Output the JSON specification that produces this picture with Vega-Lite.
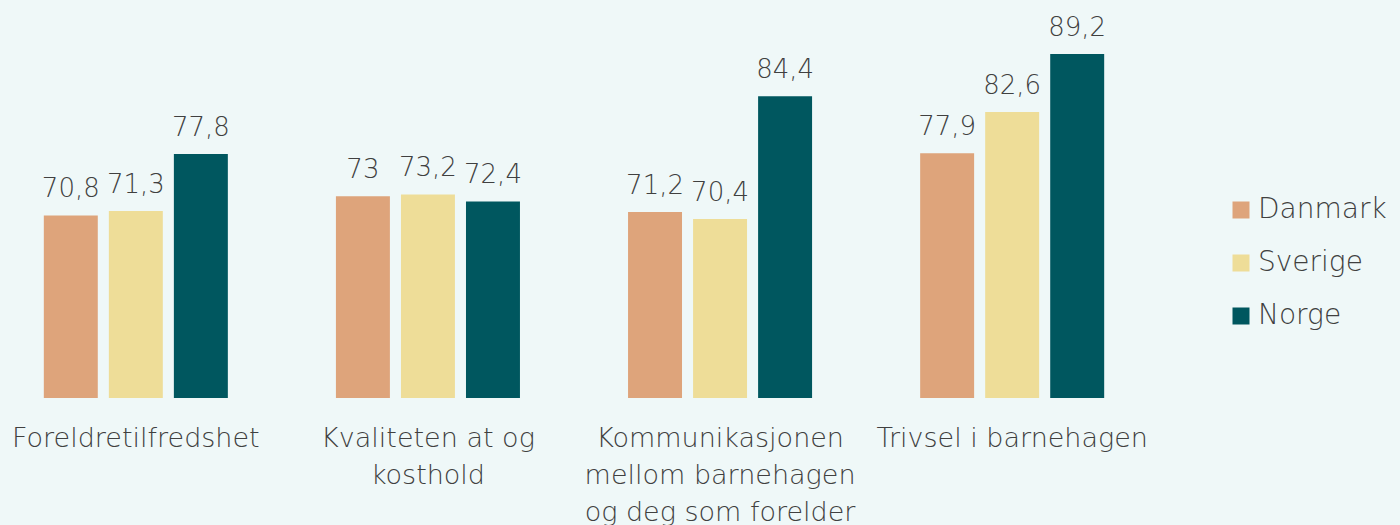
{
  "$schema": "https://vega.github.io/schema/vega-lite/v6.json",
  "width": 1148,
  "height": 351,
  "autosize": {"type": "none"},
  "padding": {"top": 47, "left": 0, "right": 252, "bottom": 127},
  "background": "#eff8f8",
  "config": {
    "view": {"stroke": null},
    "locale": {"number": {"decimal": ",", "thousands": " ", "grouping": [3], "currency": ["", " kr"]}},
    "font": "DejaVu Sans"
  },
  "data": {
    "values": [
      {"kategori": "Foreldretilfredshet", "land": "Danmark", "verdi": 70.8},
      {"kategori": "Foreldretilfredshet", "land": "Sverige", "verdi": 71.3},
      {"kategori": "Foreldretilfredshet", "land": "Norge", "verdi": 77.8},
      {"kategori": "Kvaliteten at og kosthold", "land": "Danmark", "verdi": 73},
      {"kategori": "Kvaliteten at og kosthold", "land": "Sverige", "verdi": 73.2},
      {"kategori": "Kvaliteten at og kosthold", "land": "Norge", "verdi": 72.4},
      {"kategori": "Kommunikasjonen mellom barnehagen og deg som forelder", "land": "Danmark", "verdi": 71.2},
      {"kategori": "Kommunikasjonen mellom barnehagen og deg som forelder", "land": "Sverige", "verdi": 70.4},
      {"kategori": "Kommunikasjonen mellom barnehagen og deg som forelder", "land": "Norge", "verdi": 84.4},
      {"kategori": "Trivsel i barnehagen", "land": "Danmark", "verdi": 77.9},
      {"kategori": "Trivsel i barnehagen", "land": "Sverige", "verdi": 82.6},
      {"kategori": "Trivsel i barnehagen", "land": "Norge", "verdi": 89.2}
    ]
  },
  "encoding": {
    "x": {
      "field": "kategori",
      "type": "nominal",
      "sort": null,
      "scale": {"paddingInner": 0.37, "paddingOuter": 0.15},
      "axis": {
        "title": null,
        "domain": false,
        "ticks": false,
        "labelAngle": 0,
        "labelFontSize": 27,
        "labelFontWeight": 200,
        "labelColor": "#404040",
        "labelPadding": 27,
        "labelBaseline": "top",
        "labelLineHeight": 37,
        "labelLimit": 400,
        "labelOverlap": false,
        "labelExpr": "datum.value == 'Kvaliteten at og kosthold' ? ['Kvaliteten at og', 'kosthold'] : datum.value == 'Kommunikasjonen mellom barnehagen og deg som forelder' ? ['Kommunikasjonen', 'mellom barnehagen', 'og deg som forelder'] : datum.value"
      }
    },
    "xOffset": {
      "field": "land",
      "type": "nominal",
      "sort": ["Danmark", "Sverige", "Norge"],
      "scale": {"paddingInner": 0.17, "paddingOuter": 0}
    },
    "y": {
      "field": "verdi",
      "type": "quantitative",
      "scale": {"domain": [50, 90], "zero": false, "clamp": false},
      "axis": null
    }
  },
  "layer": [
    {
      "mark": {"type": "bar", "clip": false},
      "encoding": {
        "y2": {"datum": 50},
        "color": {
          "field": "land",
          "type": "nominal",
          "sort": ["Danmark", "Sverige", "Norge"],
          "scale": {"domain": ["Danmark", "Sverige", "Norge"], "range": ["#dea47b", "#eedd98", "#00575f"]},
          "legend": {
            "title": null,
            "orient": "none",
            "legendX": 1227,
            "legendY": 149,
            "symbolType": "square",
            "symbolSize": 289,
            "symbolStrokeWidth": 0,
            "labelFontSize": 28,
            "labelFontWeight": 200,
            "labelColor": "#404040",
            "labelOffset": 3,
            "rowPadding": 25
          }
        }
      }
    },
    {
      "mark": {"type": "text", "baseline": "alphabetic", "dy": -18, "fontSize": 26, "fontWeight": 200, "color": "#404040"},
      "encoding": {
        "text": {"field": "verdi", "type": "quantitative", "format": ".3~r"}
      }
    }
  ]
}
